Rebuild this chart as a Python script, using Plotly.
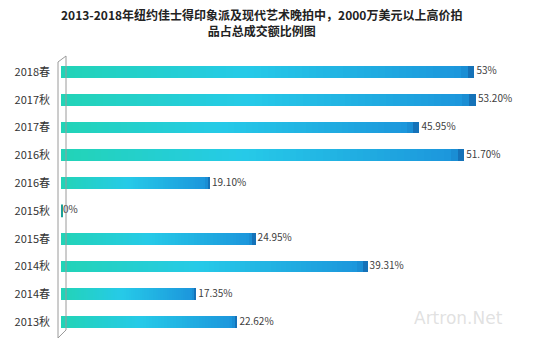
import plotly.graph_objects as go

categories = ["2018春", "2017秋", "2017春", "2016秋", "2016春", "2015秋", "2015春", "2014秋", "2014春", "2013秋"]
values = [53, 53.2, 45.95, 51.7, 19.1, 0, 24.95, 39.31, 17.35, 22.62]
labels = ["53%", "53.20%", "45.95%", "51.70%", "19.10%", "0%", "24.95%", "39.31%", "17.35%", "22.62%"]

W, H = 550, 351
L, R, T, B = 61, 21, 58, 15
FONT = "Noto Sans CJK SC, Noto Sans, sans-serif"

stops = [(0.0, (34, 212, 182)), (0.45, (38, 202, 232)), (0.97, (28, 150, 220)), (1.0, (18, 100, 170))]


def grad(t):
    for (t0, c0), (t1, c1) in zip(stops[:-1], stops[1:]):
        if t <= t1:
            f = (t - t0) / (t1 - t0) if t1 > t0 else 0
            return "rgb(%d,%d,%d)" % tuple(round(a + (b - a) * f) for a, b in zip(c0, c1))
    return "rgb(%d,%d,%d)" % stops[-1][1]


N = 60
fig = go.Figure()
for k in range(N):
    fig.add_trace(go.Bar(
        y=categories, x=[v / N for v in values], orientation="h",
        marker=dict(color=grad((k + 0.5) / N), line=dict(width=0)),
        hoverinfo="skip", showlegend=False,
    ))

# zero-value cap
fig.add_trace(go.Scatter(
    x=[v for v in values if v == 0], y=[c for c, v in zip(categories, values) if v == 0],
    mode="markers", marker=dict(symbol="line-ns", size=9, line=dict(width=4, color="rgb(30,160,150)")),
    hoverinfo="skip", showlegend=False,
))

fig.add_trace(go.Scatter(
    x=values, y=categories, mode="text", text=["\u2009" + s for s in labels], textposition="middle right",
    textfont=dict(size=10, color="#404040", family=FONT), hoverinfo="skip", showlegend=False,
))

pw = W - L - R
ph = H - T - B


def px(x):
    return (x - L) / pw


def py(y):
    return (H - B - y) / ph


fig.add_shape(type="path", xref="paper", yref="paper",
              path="M %f,%f L %f,%f L %f,%f L %f,%f Z" % (px(58), py(62), px(66), py(56), px(66), py(330), px(58), py(338)),
              line=dict(color="#9a9a9a", width=1), fillcolor="rgba(0,0,0,0)")

fig.add_annotation(text="Artron.Net", xref="paper", yref="paper", x=px(505), y=py(330),
                   showarrow=False, font=dict(size=17, color="rgba(200,200,200,0.55)", family="DejaVu Sans"))

title_font = dict(size=12, color="#222", family=FONT, weight="bold")
fig.add_annotation(text="2013-2018年纽约佳士得印象派及现代艺术晚拍中，2000万美元以上高价拍<br>品占总成交额比例图",
                   xref="paper", yref="paper", x=px(261), y=py(23), xanchor="center", yanchor="middle",
                   align="center", showarrow=False, font=title_font)

fig.update_layout(
    width=W, height=H, margin=dict(l=L, r=R, t=T, b=B),
    paper_bgcolor="white", plot_bgcolor="white",
    barmode="stack", bargap=0.57,
    xaxis=dict(range=[0, 60], showgrid=False, zeroline=False, showticklabels=False, showline=False),
    yaxis=dict(categoryorder="array", categoryarray=categories, autorange="reversed",
               showgrid=False, zeroline=False, showline=False, ticks="",
               ticklabelstandoff=10, tickfont=dict(size=11, color="#333", family=FONT)),
)

fig.write_html("out.html")
